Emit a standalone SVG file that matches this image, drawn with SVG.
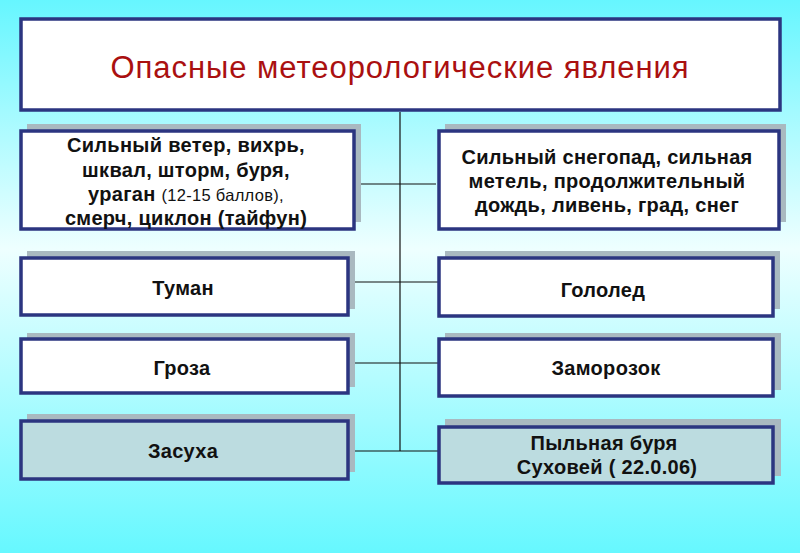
<svg xmlns="http://www.w3.org/2000/svg" width="800" height="553" viewBox="0 0 800 553">
<defs>
<linearGradient id="bg" x1="0" y1="0" x2="0" y2="1">
<stop offset="0" stop-color="#66F6FF"/>
<stop offset="0.45" stop-color="#EEFFFF"/>
<stop offset="1" stop-color="#66F8FF"/>
</linearGradient>
</defs>
<style>
.sh{fill:#A9B9C0}
.bx{fill:#FFFFFF;stroke:#2B3580;stroke-width:3.5}
.bx2{fill:#BCDCE0;stroke:#2B3580;stroke-width:3.5}
.t{font-family:"Liberation Sans",Arial,sans-serif;font-weight:bold;font-size:20px;letter-spacing:0.3px;fill:#111111;text-anchor:middle}
.n{font-weight:normal;font-size:16.5px}
.ln{stroke:#111111;stroke-width:1.2;fill:none}
</style>
<rect width="800" height="553" fill="url(#bg)"/>
<g id="title">
<rect class="bx" x="21" y="19" width="759" height="91"/>
<text x="400" y="78" font-family="Liberation Sans, Arial, sans-serif" font-size="31" letter-spacing="0.95" fill="#AA1010" text-anchor="middle">Опасные метеорологические явления</text>
</g>
<g id="connectors">
<line class="ln" x1="400" y1="112" x2="400" y2="451"/>
<line class="ln" x1="354" y1="184" x2="436" y2="184"/>
<line class="ln" x1="348" y1="282" x2="440" y2="282"/>
<line class="ln" x1="348" y1="363" x2="440" y2="363"/>
<line class="ln" x1="348" y1="451" x2="440" y2="451"/>
</g>
<g id="wind">
<rect class="sh" x="27" y="124" width="334" height="98"/>
<rect class="bx" x="21" y="131" width="333" height="98"/>
<text class="t" x="186" y="152">Сильный ветер, вихрь,</text>
<text class="t" x="186" y="177">шквал, шторм, буря,</text>
<text class="t" x="186" y="201">ураган <tspan class="n">(12-15 баллов),</tspan></text>
<text class="t" x="186" y="225">смерч, циклон (тайфун)</text>
</g>
<g id="snow">
<rect class="sh" x="445" y="124" width="341" height="98"/>
<rect class="bx" x="439" y="131" width="340" height="98"/>
<text class="t" x="607" y="164">Сильный снегопад, сильная</text>
<text class="t" x="607" y="188">метель, продолжительный</text>
<text class="t" x="607" y="212">дождь, ливень, град, снег</text>
</g>
<g id="fog">
<rect class="sh" x="27" y="251" width="328" height="58"/>
<rect class="bx" x="21" y="258" width="327" height="57"/>
<text class="t" x="183" y="295">Туман</text>
</g>
<g id="ice">
<rect class="sh" x="445" y="251" width="335" height="58"/>
<rect class="bx" x="439" y="258" width="334" height="58"/>
<text class="t" x="603" y="297">Гололед</text>
</g>
<g id="storm">
<rect class="sh" x="27" y="333" width="328" height="54"/>
<rect class="bx" x="21" y="339" width="327" height="54"/>
<text class="t" x="182" y="375">Гроза</text>
</g>
<g id="frost">
<rect class="sh" x="445" y="333" width="336" height="57"/>
<rect class="bx" x="439" y="339" width="334" height="57"/>
<text class="t" x="606" y="375">Заморозок</text>
</g>
<g id="drought">
<rect class="sh" x="27" y="414" width="328" height="58"/>
<rect class="bx2" x="21" y="421" width="327" height="58"/>
<text class="t" x="183" y="458">Засуха</text>
</g>
<g id="dust">
<rect class="sh" x="445" y="419" width="336" height="57"/>
<rect class="bx2" x="439" y="427" width="334" height="56"/>
<text class="t" x="604" y="450" font-size="15.8">Пыльная буря</text>
<text class="t" x="607" y="474">Суховей ( 22.0.06)</text>
</g>
</svg>
